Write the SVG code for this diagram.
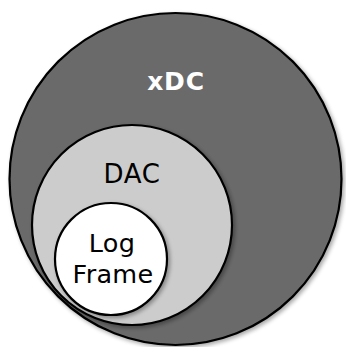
<svg xmlns="http://www.w3.org/2000/svg" width="346" height="347" viewBox="0 0 346 347">
<defs>
<filter id="sh" x="-10%" y="-10%" width="120%" height="120%">
<feGaussianBlur in="SourceAlpha" stdDeviation="2"/>
<feOffset dx="2" dy="2" result="b"/>
<feComponentTransfer><feFuncA type="linear" slope="0.35"/></feComponentTransfer>
<feMerge><feMergeNode/><feMergeNode in="SourceGraphic"/></feMerge>
</filter>
</defs>
<style>
circle{stroke:#000;stroke-width:2.2}
text{font-family:"DejaVu Sans",Verdana,sans-serif;text-anchor:middle}
</style>
<rect width="346" height="347" fill="#fff"/>
<g id="xdc">
<circle cx="175.5" cy="179" r="166" fill="#6b6b6b" filter="url(#sh)"/>
<text x="176" y="90" font-size="25" font-weight="bold" fill="#fff" letter-spacing="0.8">xDC</text>
</g>
<g id="dac">
<circle cx="132" cy="225" r="100" fill="#cccccc" filter="url(#sh)"/>
<text x="132" y="183" font-size="26" fill="#000" letter-spacing="0.6">DAC</text>
</g>
<g id="logframe">
<circle cx="111" cy="259" r="56" fill="#fff" filter="url(#sh)"/>
<text x="112" y="252" font-size="25.5" fill="#000" letter-spacing="0.3">Log</text>
<text x="113" y="283" font-size="25.5" fill="#000" letter-spacing="0.3">Frame</text>
</g>
<g id="connectors"/>
</svg>
